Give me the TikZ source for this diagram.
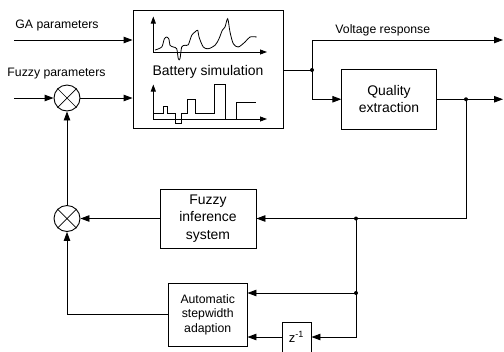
\documentclass[tikz,border=0pt]{standalone}
\usepackage{fontspec}
\setmainfont{Liberation Sans}
\usetikzlibrary{arrows.meta}
\begin{document}
\begin{tikzpicture}[x=1bp,y=-1bp,
  line width=0.9bp,
  >={Triangle[length=9bp,width=6.5bp]},
  blk/.style={draw,inner sep=0pt,align=center},
  big/.style={font=\fontsize{14}{17.5}\selectfont},
  small/.style={font=\fontsize{12.3}{14.8}\selectfont},
  lbl/.style={small,inner sep=0pt,anchor=base west},
  mult/.style={draw,circle,minimum size=26bp,inner sep=0pt},
  dot/.style={fill,circle,inner sep=0pt,minimum size=4bp},
  axis/.style={-{Triangle[length=7bp,width=5bp]},line width=0.8bp},
  sig/.style={line width=0.8bp}]
\useasboundingbox (0,0) rectangle (504,351);

% blocks
\node[blk,minimum width=150bp,minimum height=118bp] (bat) at (208,69) {};
\node[big,inner sep=0pt,anchor=base] (battxt) at (208,75) {Battery simulation};
\node[blk,big,minimum width=94.5bp,minimum height=59.5bp] (qual) at (389,99.25) {Quality\\extraction};
\node[blk,big,minimum width=96bp,minimum height=59bp] (fis) at (208,218.5) {Fuzzy\\inference\\system};
\node[blk,small,minimum width=78.5bp,minimum height=62.5bp] (auto) at (207.75,314.75) {Automatic\\stepwidth\\adaption};
\node[blk,font=\fontsize{13}{15}\selectfont,minimum width=29bp,minimum height=30bp] (zb) at (296.5,337) {z\textsuperscript{-1}};

% multipliers
\node[mult] (m1) at (67,98) {};
\draw[line width=0.7bp] (m1.north west) -- (m1.south east) (m1.north east) -- (m1.south west);
\node[mult] (m2) at (67,218.5) {};
\draw[line width=0.7bp] (m2.north west) -- (m2.south east) (m2.north east) -- (m2.south west);

% labels
\node[lbl] (ga) at (15,28.5) {GA parameters};
\node[lbl] (fp) at (7,76) {Fuzzy parameters};
\node[lbl] (vr) at (335,33) {Voltage response};

% junctions and free ends
\coordinate (gain) at (14,40);
\coordinate (fpin) at (14,98);
\node[dot] (j1) at (312,70) {};
\coordinate (vout) at (503,40);
\node[dot] (j2) at (466,99.25) {};
\coordinate (qout) at (503,99.25);
\node[dot] (j3) at (356,218.5) {};
\node[dot] (j4) at (356,293) {};

% connectors
\draw[->] (gain) -- (gain -| bat.west);
\draw[->] (fpin) -- (m1.west);
\draw[->] (m1.east) -- (m1.east -| bat.west);
\draw (bat.east |- j1) -- (j1.center);
\draw[->] (j1.center) |- (vout);
\draw[->] (j1.center) |- (qual.west);
\draw (qual.east) -- (j2.center);
\draw[->] (j2.center) -- (qout);
\draw (j2.center) |- (j3.center);
\draw[->] (j3.center) -- (fis.east);
\draw[->] (fis.west) -- (m2.east);
\draw (j3.center) -- (j4.center);
\draw[->] (j4.center) -- (j4 -| auto.east);
\draw[->] (j4.center) |- (zb.east);
\draw[->] (zb.west) -- (zb.west -| auto.east);
\draw[->] (auto.west) -| (m2.south);
\draw[->] (m2.north) -- (m1.south);

% plots inside battery simulation
\draw[axis] (153.3,52) -- (153.3,16.5);
\draw[axis] (153.3,52) -- (267,52);
\draw[sig] plot[smooth,tension=0.5] coordinates {(155,50) (161.7,47) (164.3,39) (166.7,37) (169,39.3) (170,45.3) (173.3,47) (176.7,48.7) (178.3,58.7) (180,58.7) (181.7,47) (185,45.3) (188.3,44.7) (191.7,35.3) (195,32) (197.7,30.3) (199,37) (203.3,47) (208.3,48.7) (215,45.3) (219,38.7) (222.3,30.3) (225,27) (227.7,18.7) (230,32) (233.3,43.7) (238.3,47) (245,42) (250,37) (256.7,37)};
\draw[axis] (153.3,119) -- (153.3,84.5);
\draw[axis] (153.3,119) -- (267,119);
\draw[sig] (153.3,113.3) -- (163.3,113.3) -- (163.3,106.7) -- (167.7,106.7) -- (167.7,113.3) -- (175,113.3) -- (175,123.3) -- (181,123.3) -- (181,113.3) -- (187.7,113.3) -- (187.7,99.3) -- (195,99.3) -- (195,113.3) -- (214.3,113.3) -- (214.3,84) -- (225,84) -- (225,119) -- (236.7,119) -- (236.7,102.7) -- (255.7,102.7);
\end{tikzpicture}
\end{document}
